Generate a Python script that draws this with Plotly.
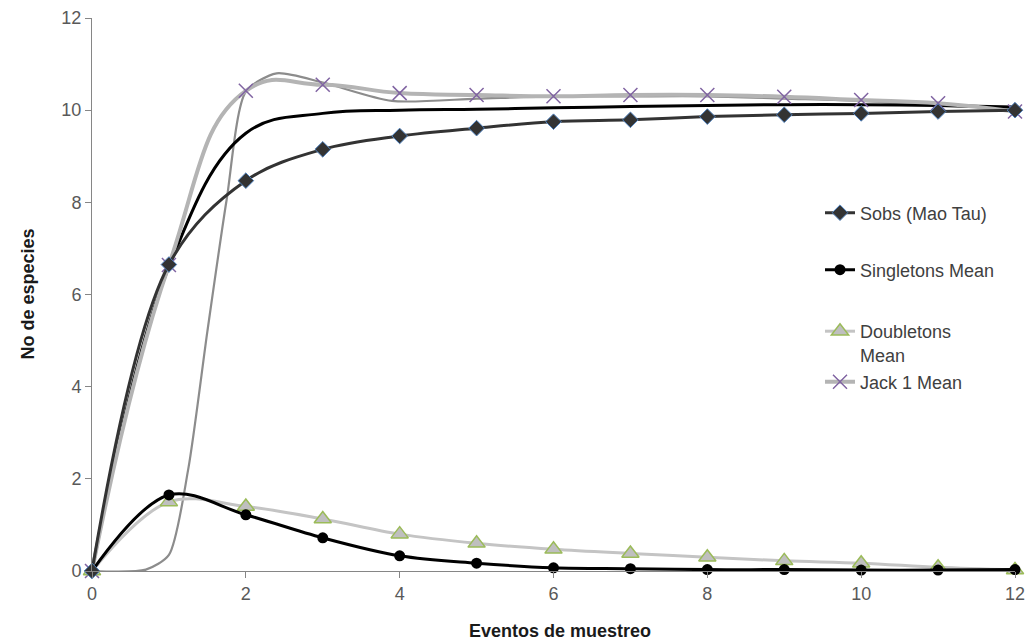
import plotly.graph_objects as go

# ---- data ----
eventos = [0, 1, 2, 3, 4, 5, 6, 7, 8, 9, 10, 11, 12]
sobs = [0, 6.65, 8.47, 9.15, 9.44, 9.61, 9.75, 9.79, 9.86, 9.90, 9.93, 9.97, 10.0]
singletons = [0, 1.65, 1.22, 0.72, 0.33, 0.17, 0.07, 0.05, 0.03, 0.03, 0.02, 0.02, 0.03]
doubletons = [0, 1.50, 1.40, 1.13, 0.80, 0.60, 0.47, 0.38, 0.30, 0.22, 0.17, 0.08, 0.02]
jack1 = [0, 6.64, 10.42, 10.55, 10.37, 10.33, 10.30, 10.33, 10.33, 10.29, 10.22, 10.15, 9.97]

# unlabelled curves drawn in the reference (no legend entry)
extra_black = [0, 6.6, 9.5, 9.93, 10.0, 10.02, 10.05, 10.08, 10.1, 10.12, 10.12, 10.1, 10.07]
extra_gray_x = [0, 0.7, 1.0, 1.25, 1.5, 1.75, 2.0, 2.4, 3.0, 3.9, 5, 6, 7, 8, 9, 10, 11, 12]
extra_gray_y = [0, 0.03, 0.35, 2.2, 5.2, 8.05, 10.4, 10.8, 10.6, 10.2, 10.25, 10.3, 10.3,
                10.3, 10.25, 10.2, 10.1, 10.05]

x_ticks = [0, 2, 4, 6, 8, 10, 12]
y_ticks = [0, 2, 4, 6, 8, 10, 12]

FONT = "Liberation Sans, Arial, sans-serif"

fig = go.Figure()

# extra curves
fig.add_trace(go.Scatter(x=extra_gray_x, y=extra_gray_y, mode="lines", showlegend=False,
                         line=dict(color="#8C8C8C", width=2.2, shape="spline", smoothing=0.7),
                         hoverinfo="skip"))
fig.add_trace(go.Scatter(x=eventos, y=extra_black, mode="lines", showlegend=False,
                         line=dict(color="#000000", width=3, shape="spline", smoothing=1.1),
                         hoverinfo="skip"))

# legend series
fig.add_trace(go.Scatter(
    x=eventos, y=jack1, mode="lines+markers", name="Jack 1 Mean", legend="legend4",
    line=dict(color="#B4B4B4", width=4, shape="spline", smoothing=1.3),
    marker=dict(symbol="x-thin", size=14, line=dict(color="#8064A2", width=1.5)),
    cliponaxis=False))
fig.add_trace(go.Scatter(
    x=eventos, y=doubletons, mode="lines+markers", name="Doubletons<br>Mean", legend="legend3",
    line=dict(color="#C4C4C4", width=3, shape="spline", smoothing=1),
    marker=dict(symbol="triangle-up", size=15, color="#BFBFBF", line=dict(color="#9BBB59", width=1.5)),
    cliponaxis=False))
fig.add_trace(go.Scatter(
    x=eventos, y=singletons, mode="lines+markers", name="Singletons Mean", legend="legend2",
    line=dict(color="#000000", width=3, shape="spline", smoothing=1),
    marker=dict(symbol="circle", size=11, color="#000000"),
    cliponaxis=False))
fig.add_trace(go.Scatter(
    x=eventos, y=sobs, mode="lines+markers", name="Sobs (Mao Tau)", legend="legend",
    line=dict(color="#333333", width=3, shape="spline", smoothing=1),
    marker=dict(symbol="diamond", size=12, color="#333333", line=dict(color="#4F81BD", width=1)),
    cliponaxis=False))

# page pixel -> paper coordinates (plot area spans x 92..1015, y 18..571 on the page)
def px_to_paper_y(py):
    return (571 - py) / 553.0

def px_to_paper_x(px):
    return (px - 92) / 923.0

leg_common = dict(x=px_to_paper_x(820), xanchor="left", yanchor="middle",
                  bgcolor="rgba(0,0,0,0)", font=dict(family=FONT, size=18, color="#404040"),
                  valign="top")

fig.update_layout(
    width=1028, height=643,
    margin=dict(l=92, r=13, t=18, b=72),
    paper_bgcolor="white", plot_bgcolor="white",
    legend=dict(y=px_to_paper_y(213), **leg_common),
    legend2=dict(y=px_to_paper_y(270), **leg_common),
    legend3=dict(y=px_to_paper_y(343), **leg_common),
    legend4=dict(y=px_to_paper_y(382), **leg_common),
    xaxis=dict(range=[0, 12], tickvals=x_ticks, ticktext=[str(v) for v in x_ticks],
               showgrid=False, zeroline=False, showline=True, linecolor="#868686", linewidth=1,
               ticks="outside", ticklen=6, tickcolor="#868686", automargin=False,
               tickfont=dict(family=FONT, size=18, color="#595959")),
    yaxis=dict(range=[0, 12], tickvals=y_ticks, ticktext=[str(v) for v in y_ticks],
               showgrid=False, zeroline=False, showline=True, linecolor="#868686", linewidth=1,
               ticks="outside", ticklen=6, tickcolor="#868686", automargin=False,
               tickfont=dict(family=FONT, size=18, color="#595959")),
    annotations=[
        dict(text="<b>Eventos de muestreo</b>", xref="paper", yref="paper",
             x=px_to_paper_x(560), y=px_to_paper_y(631), xanchor="center", yanchor="middle",
             showarrow=False, font=dict(family=FONT, size=18, color="#1A1A1A")),
        dict(text="<b>No de especies</b>", xref="paper", yref="paper",
             x=px_to_paper_x(27), y=0.5, xanchor="center", yanchor="middle", textangle=-90,
             showarrow=False, font=dict(family=FONT, size=18, color="#1A1A1A")),
    ],
)

# remove the default page margin so the 1028x643 figure fills the window exactly
fig.write_html("out.html",
               config={"displayModeBar": False},
               post_script="document.body.style.margin='0';document.body.style.overflow='hidden';")
